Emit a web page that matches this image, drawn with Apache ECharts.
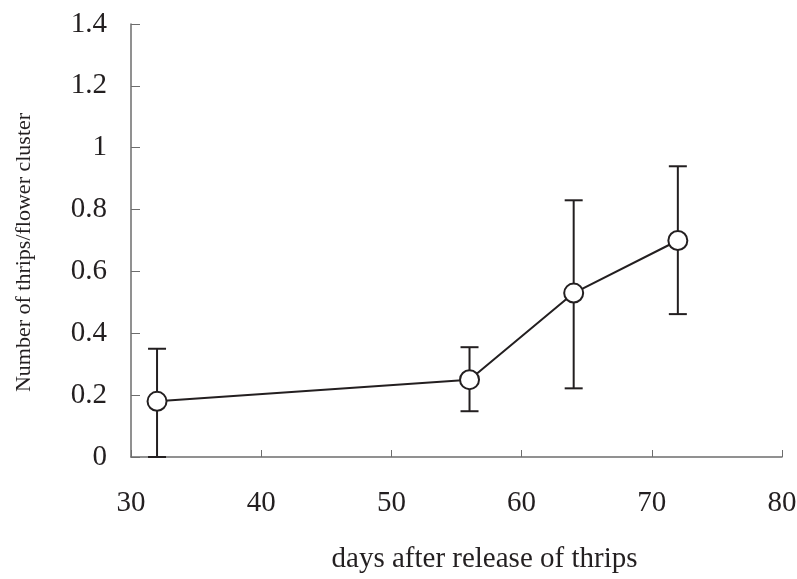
<!DOCTYPE html>
<html><head><meta charset="utf-8">
<script src="https://cdn.jsdelivr.net/npm/echarts@6/dist/echarts.min.js"></script>
<style>html,body{margin:0;padding:0;background:#fff}#c{width:797px;height:579px}</style>
</head><body><div id="c"></div>
<script>
var days = [32, 56, 64, 72];
var means = [0.18, 0.25, 0.53, 0.70];
var upper = [0.35, 0.355, 0.83, 0.94];
var lower = [0.0, 0.148, 0.222, 0.462];
var xTicks = [30, 40, 50, 60, 70, 80];
var yTicks = [0, 0.2, 0.4, 0.6, 0.8, 1, 1.2, 1.4];

var ink = '#231f20';
var font = '"Liberation Serif", "Times New Roman", serif';
var chart = echarts.init(document.getElementById('c'));
var lineData = days.map(function(d, i){ return [d, means[i]]; });
var errData = days.map(function(d, i){ return [d, lower[i], upper[i]]; });

chart.setOption({
  animation: false,
  backgroundColor: '#fff',
  grid: {left: 131, right: 15, top: 24, bottom: 122, containLabel: false, outerBoundsMode: 'none'},
  xAxis: {
    type: 'value', min: 30, max: 80, interval: 10,
    name: 'days after release of thrips', nameLocation: 'middle', nameGap: 88,
    nameTextStyle: {fontFamily: font, fontSize: 29, color: ink, padding: [0, 0, 0, 56]},
    axisLine: {lineStyle: {color: '#6d6d6d', width: 1.5}},
    axisTick: {inside: true, length: 7, lineStyle: {color: '#6d6d6d', width: 1}},
    axisLabel: {fontFamily: font, fontSize: 29, color: ink, margin: 32},
    splitLine: {show: false}
  },
  yAxis: {
    type: 'value', min: 0, max: 1.4, interval: 0.2,
    name: 'Number of thrips/flower cluster', nameLocation: 'middle', nameGap: 96,
    nameTextStyle: {fontFamily: font, fontSize: 22, color: ink, padding: [0, 24, 0, 0]},
    axisLine: {show: true, lineStyle: {color: '#6d6d6d', width: 1.5}},
    axisTick: {show: true, inside: true, length: 9, lineStyle: {color: '#6d6d6d', width: 1}},
    axisLabel: {fontFamily: font, fontSize: 29, color: ink, margin: 24,
      formatter: function(v){ return String(Math.round(v*10)/10); }},
    splitLine: {show: false}
  },
  series: [
    {
      type: 'custom',
      data: errData,
      z: 2,
      renderItem: function(params, api){
        var x = api.value(0);
        var lo = api.coord([x, api.value(1)]);
        var hi = api.coord([x, api.value(2)]);
        var hw = 9;
        var st = {stroke: ink, lineWidth: 2};
        return {type: 'group', children: [
          {type: 'line', shape: {x1: lo[0], y1: lo[1], x2: hi[0], y2: hi[1]}, style: st},
          {type: 'line', shape: {x1: hi[0]-hw, y1: hi[1], x2: hi[0]+hw, y2: hi[1]}, style: st},
          {type: 'line', shape: {x1: lo[0]-hw, y1: lo[1], x2: lo[0]+hw, y2: lo[1]}, style: st}
        ]};
      }
    },
    {
      type: 'line',
      data: lineData,
      z: 3,
      symbol: 'circle', symbolSize: 19,
      lineStyle: {color: ink, width: 2},
      itemStyle: {color: '#fff', borderColor: ink, borderWidth: 2}
    }
  ]
});
</script></body></html>
